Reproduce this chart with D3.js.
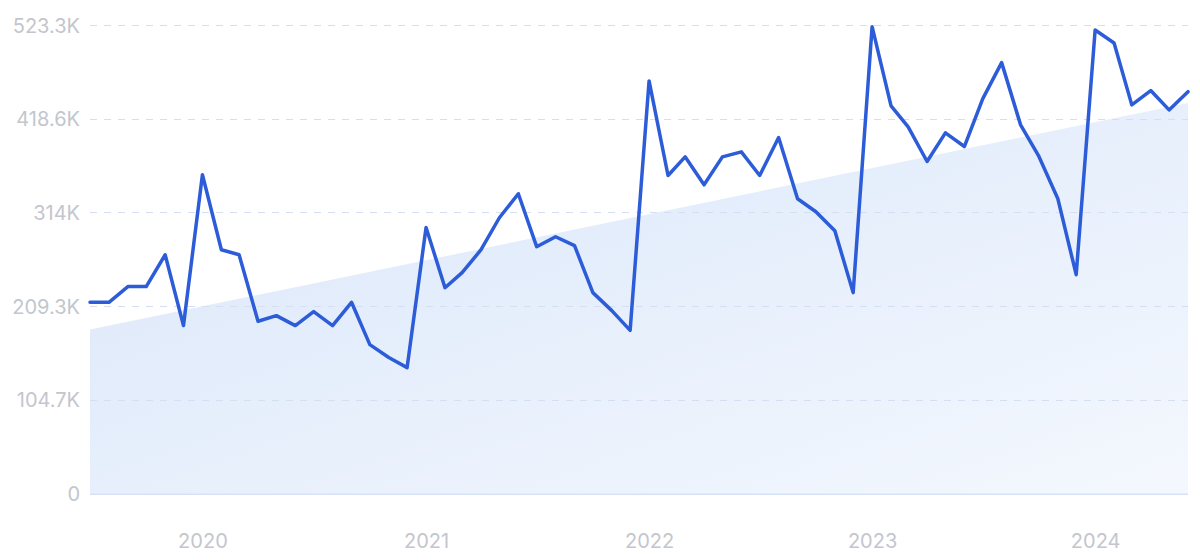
<!DOCTYPE html>
<html>
<head>
<meta charset="utf-8">
<script src="https://cdn.jsdelivr.net/npm/d3@7"></script>
<style>
  html, body { margin: 0; padding: 0; background: #ffffff; }
  svg { display: block; }
  text { font-family: Inter, "Noto Sans", sans-serif; }
</style>
</head>
<body>
<svg id="chart" width="1200" height="560"></svg>
<script>
// ---- data ----
const startMonth = "2019-07";
const values = [
  213.7, 213.7, 231.2, 231.2, 266.8, 187.7,
  356.1, 272.4, 266.8, 192.5, 198.8, 187.7, 203.3, 187.7, 213.7, 166.5, 152.0, 140.8,
  297.3, 230.0, 246.8, 272.4, 308.1, 334.9, 275.8, 286.9, 276.9, 224.5, 204.4, 182.4,
  460.9, 355.3, 376.1, 344.9, 376.1, 381.7, 355.3, 397.6, 329.3, 314.8, 293.6, 224.5,
  521.4, 433.0, 409.6, 370.9, 402.9, 387.6, 440.8, 481.3, 411.8, 376.5, 329.3, 244.5,
  517.7, 503.2, 434.1, 450.1, 428.5, 448.9
].map(v => v * 1000);
const trendStart = 183.2 * 1000;
const trendEnd = 436.3 * 1000;
const yTicks = [0, 104660, 209320, 313980, 418640, 523300];
const yTickLabels = ["0", "104.7K", "209.3K", "314K", "418.6K", "523.3K"];
const xTickYears = [2020, 2021, 2022, 2023, 2024];

// ---- build ----
const parse = d3.timeParse("%Y-%m");
const t0 = parse(startMonth);
const data = values.map((v, i) => ({ date: d3.timeMonth.offset(t0, i), value: v }));

const svg = d3.select("#chart");
const margin = { left: 90, right: 12, top: 25, bottom: 66 };
const W = 1200, H = 560;

const x = d3.scaleTime()
  .domain(d3.extent(data, d => d.date))
  .range([margin.left, W - margin.right]);
const y = d3.scaleLinear()
  .domain([0, 523300])
  .range([H - margin.bottom - 0.3, margin.top]);

const defs = svg.append("defs");
const grad = defs.append("linearGradient")
  .attr("id", "trendGrad")
  .attr("x1", "0%").attr("y1", "0%").attr("x2", "100%").attr("y2", "100%");
grad.append("stop").attr("offset", "0%").attr("stop-color", "#d9e6f9");
grad.append("stop").attr("offset", "100%").attr("stop-color", "#f4f8fe");

// trend area
const trend = [
  { date: data[0].date, value: trendStart },
  { date: data[data.length - 1].date, value: trendEnd }
];
svg.append("path")
  .datum(trend)
  .attr("fill", "url(#trendGrad)")
  .attr("d", d3.area().x(d => x(d.date)).y0(y(0)).y1(d => y(d.value)));

// y axis labels
const yAxis = d3.axisLeft(y)
  .tickValues(yTicks)
  .tickFormat((d, i) => yTickLabels[i])
  .tickSize(0)
  .tickPadding(10);
const gy = svg.append("g")
  .attr("transform", `translate(${margin.left},0)`)
  .call(yAxis);
gy.select(".domain").remove();
gy.selectAll("text")
  .attr("fill", "#c3c6cd")
  .attr("font-size", 20)
  .attr("dy", "0.35em");

// grid
svg.append("g")
  .selectAll("line")
  .data(yTicks.slice(1))
  .join("line")
  .attr("x1", margin.left).attr("x2", W - margin.right)
  .attr("y1", d => Math.round(y(d)) + 0.5).attr("y2", d => Math.round(y(d)) + 0.5)
  .attr("stroke", "#d6dff1")
  .attr("stroke-width", 1)
  .attr("stroke-dasharray", "7,7");

// baseline
svg.append("line")
  .attr("x1", margin.left).attr("x2", W - margin.right)
  .attr("y1", y(0) + 0.5).attr("y2", y(0) + 0.5)
  .attr("stroke", "#d6e1f5").attr("stroke-width", 1.5);

// x axis
const xAxis = d3.axisBottom(x)
  .tickValues(xTickYears.map(yr => new Date(yr, 0, 1)))
  .tickFormat(d3.timeFormat("%Y"))
  .tickSize(0)
  .tickPadding(40);
const gx = svg.append("g")
  .attr("transform", `translate(0,${y(0)})`)
  .call(xAxis);
gx.select(".domain").remove();
gx.selectAll("text")
  .attr("fill", "#c3c6cd")
  .attr("font-size", 20);

// line
svg.append("path")
  .datum(data)
  .attr("fill", "none")
  .attr("stroke", "#2c5cd8")
  .attr("stroke-width", 3.5)
  .attr("stroke-linejoin", "round")
  .attr("stroke-linecap", "round")
  .attr("d", d3.line().x(d => x(d.date)).y(d => y(d.value)));
</script>
</body>
</html>
